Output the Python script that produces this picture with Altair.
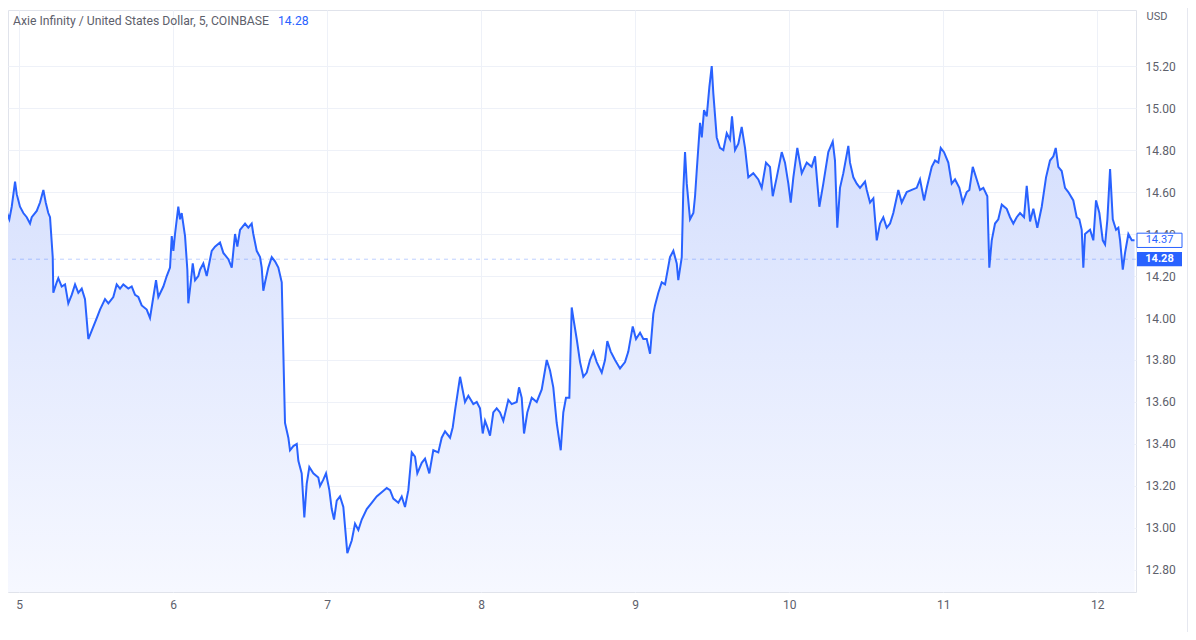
import altair as alt
import pandas as pd

TITLE = "Axie Infinity / United States Dollar, 5, COINBASE"
TITLE_PRICE = "14.28"
CURRENCY = "USD"
LAST_PRICE = 14.28
CLOSE_PRICE = 14.37
DAY_TICKS = [5, 6, 7, 8, 9, 10, 11, 12]
PRICE_TICKS = [12.8, 13.0, 13.2, 13.4, 13.6, 13.8, 14.0, 14.2, 14.4, 14.6, 14.8, 15.0, 15.2]

# hours since 2022-08-05 00:00 UTC, 5-minute chart
hours_a = [-1.90, -1.54, -1.17, -0.65, -0.39, 0.12, 0.64, 1.17, 1.68, 1.95, 2.73, 3.24, 3.76, 4.13, 4.53, 4.80,
           5.22, 5.31, 5.84, 6.09, 6.62, 7.14, 7.65, 8.18, 8.70, 9.21, 9.74, 10.25, 10.77, 11.30, 12.08, 12.59,
           13.37, 13.89, 14.66, 15.19, 15.71, 16.22, 17.00, 17.53, 18.05, 18.56, 19.09, 19.87, 20.38, 20.90,
           21.32, 21.68, 22.46, 22.99, 23.50, 23.77, 24.02, 24.28, 24.79, 25.06, 25.32, 25.84, 26.20, 26.35,
           26.73, 27.04, 27.40, 27.91]
prices_a = [14.50, 14.47, 14.53, 14.65, 14.59, 14.53, 14.50, 14.48, 14.45, 14.48, 14.51, 14.55, 14.61, 14.55, 14.50, 14.48,
            14.29, 14.12, 14.17, 14.19, 14.15, 14.16, 14.07, 14.11, 14.16, 14.12, 14.14, 14.09, 13.90, 13.94, 14.00, 14.04,
            14.09, 14.07, 14.10, 14.16, 14.14, 14.16, 14.14, 14.15, 14.11, 14.10, 14.06, 14.04, 14.00, 14.10,
            14.18, 14.10, 14.15, 14.20, 14.24, 14.39, 14.32, 14.40, 14.53, 14.47, 14.50, 14.39, 14.23, 14.07,
            14.17, 14.26, 14.18, 14.20]

hours_b = [28.18, 28.69, 29.22, 30.00, 30.51, 31.29, 31.81, 32.59, 33.12, 33.63, 33.99, 34.41, 35.19, 35.70,
           36.23, 36.48, 37.01, 37.53, 37.79, 38.04, 38.31, 38.82, 39.35, 39.86, 40.38, 40.91]
prices_b = [14.23, 14.26, 14.20, 14.32, 14.34, 14.36, 14.31, 14.28, 14.24, 14.40, 14.34, 14.42, 14.45, 14.43,
            14.45, 14.40, 14.32, 14.29, 14.24, 14.13, 14.17, 14.24, 14.29, 14.27, 14.24, 14.17]

hours_c = [41.27, 41.42, 41.94, 42.20, 42.72, 43.25, 43.50, 44.02, 44.43, 44.80, 45.21, 45.83, 46.61, 46.88,
           47.39, 47.81, 48.33, 48.70, 49.06, 49.48, 49.99, 50.51, 51.13, 51.82, 52.33, 52.85, 53.38, 54.16,
           54.93, 55.71, 56.49, 57.27, 57.79, 58.30, 59.08, 59.61, 60.12, 60.64, 61.17, 61.68, 62.04, 62.73,
           63.24, 63.91, 64.53, 65.31, 65.84, 66.36, 67.14, 67.56, 67.92, 68.70]
prices_c = [13.69, 13.50, 13.43, 13.37, 13.39, 13.40, 13.32, 13.26, 13.05, 13.21, 13.29, 13.26, 13.24, 13.20,
            13.23, 13.26, 13.18, 13.09, 13.04, 13.13, 13.15, 13.10, 12.88, 12.94, 13.02, 12.99, 13.04, 13.09,
            13.12, 13.15, 13.17, 13.19, 13.18, 13.14, 13.12, 13.15, 13.10, 13.18, 13.36, 13.34, 13.26, 13.31,
            13.33, 13.26, 13.37, 13.36, 13.43, 13.46, 13.43, 13.48, 13.56, 13.72]

hours_d = [69.47, 69.99, 70.77, 71.30, 71.81, 72.23, 72.59, 72.95, 73.37, 73.88, 74.41, 74.93, 75.44, 76.22,
           76.75, 77.53, 77.89, 78.31, 78.67, 79.18, 79.87, 80.65, 81.43, 82.21, 82.72, 83.23, 83.76, 84.39,
           84.79, 85.21, 85.73, 86.10, 86.35, 86.88, 87.40, 87.91, 88.44, 88.95, 89.47, 90.00, 90.78, 91.29,
           91.65, 92.18, 92.85, 93.63, 94.41, 94.92, 95.61, 96.12, 96.75, 97.26, 97.79, 98.31, 98.82, 99.08,
           99.60, 100.13, 100.65, 101.42, 101.94, 102.47, 102.71, 103.25]
prices_d = [13.60, 13.63, 13.59, 13.60, 13.57, 13.45, 13.51, 13.48, 13.44, 13.55, 13.57, 13.55, 13.51, 13.61,
            13.59, 13.60, 13.67, 13.62, 13.45, 13.55, 13.62, 13.60, 13.66, 13.80, 13.75, 13.67, 13.50, 13.37,
            13.55, 13.62, 13.62, 14.05, 14.00, 13.90, 13.79, 13.72, 13.74, 13.80, 13.84, 13.79, 13.74, 13.80,
            13.89, 13.84, 13.80, 13.76, 13.79, 13.84, 13.96, 13.90, 13.93, 13.90, 13.90, 13.83, 14.02, 14.06,
            14.12, 14.17, 14.16, 14.29, 14.32, 14.26, 14.18, 14.29]

hours_e = [103.49, 103.76, 104.03, 104.54, 105.06, 105.32, 105.58, 106.10, 106.37, 106.72, 107.14, 107.55,
           107.92, 108.17, 108.70, 109.21, 109.73, 110.26, 110.77, 111.08, 111.55, 112.07, 112.59, 113.11,
           113.62, 114.40, 115.18, 115.71, 116.38, 117.00, 117.43, 118.05, 118.83, 119.34, 119.86, 120.23,
           120.64, 121.26, 121.95, 122.73, 123.50, 124.02, 124.69, 125.31, 126.09, 126.78]
prices_e = [14.61, 14.79, 14.64, 14.47, 14.50, 14.58, 14.70, 14.93, 14.86, 14.99, 14.96, 15.10,
            15.20, 15.07, 14.86, 14.81, 14.80, 14.88, 14.85, 14.96, 14.80, 14.83, 14.91, 14.81,
            14.67, 14.69, 14.66, 14.62, 14.74, 14.72, 14.58, 14.67, 14.79, 14.74, 14.64, 14.55,
            14.67, 14.81, 14.69, 14.74, 14.72, 14.77, 14.53, 14.64, 14.79, 14.84]

hours_f = [127.13, 127.49, 127.91, 128.43, 129.21, 129.47, 129.99, 130.52, 131.03, 131.81, 132.08, 132.59,
           133.11, 133.64, 134.15, 134.66, 135.19, 135.71, 136.22, 137.00, 137.53, 138.31, 139.09, 139.87,
           140.38, 141.01, 141.43, 142.21, 142.72, 143.24, 143.61, 144.12, 144.79, 145.32, 145.84, 146.51,
           147.04, 147.66, 148.07, 148.60, 149.22, 149.73, 150.25, 150.87, 151.18, 151.56, 152.07, 152.58,
           153.12, 153.89, 154.41, 154.92, 155.45, 155.97, 156.59, 157.01, 157.53, 158.04, 158.66, 159.35,
           160.02, 160.64, 161.16, 161.53, 161.93, 162.46, 162.98, 163.49, 164.27, 164.80, 165.21, 165.58,
           165.83, 166.10, 166.88, 167.39, 167.81, 168.33, 168.86, 169.22, 169.58, 170.00, 170.42, 170.93,
           171.29, 171.56, 171.98, 172.33, 172.85, 173.38, 173.81]
prices_f = [14.75, 14.43, 14.62, 14.69, 14.82, 14.74, 14.67, 14.64, 14.62, 14.65, 14.61, 14.55,
            14.57, 14.37, 14.45, 14.48, 14.43, 14.45, 14.50, 14.61, 14.55, 14.60, 14.61, 14.62,
            14.66, 14.56, 14.62, 14.72, 14.75, 14.74, 14.81, 14.79, 14.74, 14.64, 14.66, 14.62,
            14.55, 14.60, 14.61, 14.72, 14.66, 14.61, 14.62, 14.58, 14.24, 14.37, 14.45, 14.47,
            14.54, 14.52, 14.48, 14.45, 14.48, 14.50, 14.48, 14.63, 14.46, 14.52, 14.43, 14.53,
            14.67, 14.75, 14.77, 14.81, 14.72, 14.70, 14.62, 14.60, 14.56, 14.48, 14.47, 14.42,
            14.24, 14.40, 14.42, 14.37, 14.56, 14.50, 14.37, 14.35, 14.47, 14.71, 14.47, 14.42,
            14.43, 14.37, 14.23, 14.31, 14.40, 14.37, 14.37]

HOURS = hours_a + hours_b + hours_c + hours_d + hours_e + hours_f
PRICES = prices_a + prices_b + prices_c + prices_d + prices_e + prices_f
assert len(HOURS) == len(PRICES), (len(HOURS), len(PRICES))

X_RANGE_HOURS = [-1.75, 174.04]
Y_RANGE = [12.695, 15.467]

T0_MS = int(pd.Timestamp("2022-08-05T00:00:00Z").value // 10**6)
H_MS = 3600 * 1000

df = pd.DataFrame({"t": [T0_MS + h * H_MS for h in HOURS], "p": PRICES})
day_ms = [T0_MS + (d - 5) * 24 * H_MS for d in DAY_TICKS]

FONT = "Roboto"
LABEL_COLOR = "#5d606b"
GRID = "#eef1f8"
BLUE = "#2962ff"

xscale = alt.Scale(type="utc", domain=[T0_MS + X_RANGE_HOURS[0] * H_MS, T0_MS + X_RANGE_HOURS[1] * H_MS])
yscale = alt.Scale(domain=Y_RANGE, nice=False, zero=False)

x_enc = alt.X("t:T", scale=xscale,
              axis=alt.Axis(values=day_ms, labelExpr="utcFormat(datum.value, '%-d')", title=None, grid=True,
                            gridColor=GRID, ticks=False, domain=False, labelColor=LABEL_COLOR,
                            labelFontSize=12, labelFont=FONT, labelPadding=7, labelFlush=False))
y_enc = alt.Y("p:Q", scale=yscale,
              axis=alt.Axis(orient="right", values=PRICE_TICKS, format=".2f", title=CURRENCY,
                            titleAngle=0, titleX=10, titleY=6, titleAlign="left", titleBaseline="middle",
                            titleFontWeight="normal", titleFontSize=11, titleColor=LABEL_COLOR, titleFont=FONT,
                            grid=True, gridColor=GRID, ticks=False, domain=False, labelPadding=9,
                            labelFontSize=12, labelColor=LABEL_COLOR, labelFont=FONT))

gradient = alt.Gradient(gradient="linear",
                        stops=[alt.GradientStop(color="#f6f8ff", offset=0),
                               alt.GradientStop(color="#d0dbfd", offset=1)],
                        x1=1, x2=1, y1=1, y2=0)

base = alt.Chart(df)
area = base.mark_area(color=gradient).encode(x=x_enc, y=y_enc, y2=alt.datum(Y_RANGE[0]))
line = base.mark_line(color=BLUE, strokeWidth=2).encode(x=x_enc, y=y_enc)

one = pd.DataFrame({"k": [0]})
dash = alt.Chart(one).mark_rule(color=BLUE, opacity=0.3, strokeDash=[4, 4], strokeWidth=1).encode(
    y=alt.datum(LAST_PRICE))

box_h = 0.034
close_box = alt.Chart(one).mark_rect(fill="white", stroke=BLUE, strokeWidth=1).encode(
    x=alt.value(1129), x2=alt.value(1174),
    y=alt.datum(CLOSE_PRICE + box_h), y2=alt.datum(CLOSE_PRICE - box_h))
close_txt = alt.Chart(one).mark_text(text=f"{CLOSE_PRICE:.2f}", color=BLUE, fontSize=11, font=FONT,
                                     align="center", baseline="middle").encode(
    x=alt.value(1151.5), y=alt.datum(CLOSE_PRICE))
last_box = alt.Chart(one).mark_rect(fill=BLUE).encode(
    x=alt.value(1129), x2=alt.value(1174),
    y=alt.datum(LAST_PRICE + box_h), y2=alt.datum(LAST_PRICE - box_h))
last_txt = alt.Chart(one).mark_text(text=f"{LAST_PRICE:.2f}", color="white", fontSize=11, font=FONT,
                                    fontWeight="bold", align="center", baseline="middle").encode(
    x=alt.value(1151.5), y=alt.datum(LAST_PRICE))

title = alt.Chart(one).mark_text(text=TITLE, color=LABEL_COLOR, fontSize=12.2, font=FONT,
                                 align="left", baseline="middle").encode(x=alt.value(5), y=alt.value(11))
title_price = alt.Chart(one).mark_text(text=TITLE_PRICE, color=BLUE, fontSize=12.2, font=FONT,
                                       align="left", baseline="middle").encode(x=alt.value(270), y=alt.value(11))

frame_r = alt.Chart(one).mark_rule(color="#e6e8f0", strokeWidth=1).encode(
    x=alt.value(1179.5), y=alt.value(-2), y2=alt.value(623.5))
frame_b = alt.Chart(one).mark_rule(color="#e6e8f0", strokeWidth=1).encode(
    x=alt.value(0), x2=alt.value(1179.5), y=alt.value(623.5))

chart = alt.layer(area, line, dash, close_box, close_txt, last_box, last_txt, title, title_price,
                  frame_r, frame_b).properties(
    width=1128, height=582,
    autosize=alt.AutoSizeParams(type="none"),
    padding={"left": 0, "top": 2, "right": 52, "bottom": 40},
    background="white",
).configure_view(stroke="#e0e3eb", strokeWidth=1)

chart.save("out.html", embed_options={"renderer": "svg", "actions": False})
